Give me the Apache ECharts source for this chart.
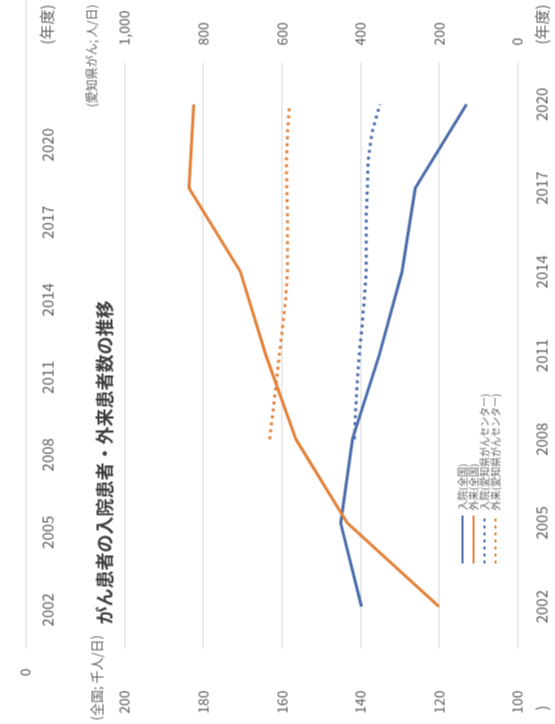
<!DOCTYPE html>
<html><head><meta charset="utf-8">
<script src="https://cdn.jsdelivr.net/npm/echarts@6/dist/echarts.min.js"></script>
<style>
html,body{margin:0;padding:0;width:555px;height:724px;overflow:hidden;background:#fff;}
#chart{position:absolute;width:724px;height:555px;left:-84.5px;top:84.5px;transform:rotate(-90deg);transform-origin:50% 50%;}
</style></head><body><div id="chart"></div>
<script>
// ---- data ----
const years = [2002, 2005, 2008, 2011, 2014, 2017, 2020];
const inpatientNational = [139.7, 145.0, 142.0, 135.2, 129.4, 126.0, 113.0];   // 千人/日
const outpatientNational = [120.0, 143.3, 156.4, 164.0, 170.5, 183.6, 182.4]; // 千人/日
const aichiYears = [2008, 2009, 2010, 2011, 2012, 2013, 2014, 2015, 2016, 2017, 2018, 2019, 2020];
const inpatientAichi = [415, 412, 408, 403, 396, 390, 385, 385, 385, 382, 380, 370, 350];   // 人/日
const outpatientAichi = [631, 622, 614, 606, 598, 590, 585, 585, 585, 587, 588, 585, 580]; // 人/日
const seriesNames = ['入院(全国)', '外来(全国)', '入院(愛知県がんセンター)', '外来(愛知県がんセンター)'];
const leftAxisRange = [100, 200, 20];
const rightAxisRange = [0, 1000, 200];

const FONT = '"Noto Sans CJK JP", "Noto Sans", sans-serif';
const BLUE = '#4a6cab';
const ORANGE = '#e2813a';
const GRID = '#d9d9d9';
const TXT = '#5f5f5f';

const pair = (xs, ys) => xs.map((x, i) => [x, ys[i]]);

const chart = echarts.init(document.getElementById('chart'), null, {renderer: 'canvas'});
chart.setOption({
  animation: false,
  backgroundColor: '#ffffff',
  textStyle: {fontFamily: FONT},
  grid: [
    {left: 76, right: 62, top: 124, bottom: 38},
    {left: 76, width: 700, top: 0, height: 25}
  ],
  xAxis: [
    {
      type: 'value', gridIndex: 0, min: 2000.5, max: 2021.5,
      axisLine: {show: true, lineStyle: {color: GRID}},
      axisTick: {show: false},
      splitLine: {show: false},
      axisLabel: {customValues: years, formatter: v => String(v), color: TXT, fontSize: 15, margin: 17, fontFamily: FONT}
    },
    {
      type: 'value', gridIndex: 1, min: 2000.5, max: 2000.5 + 700 / (586 / 21),
      axisLine: {show: true, lineStyle: {color: GRID}},
      axisTick: {show: false},
      splitLine: {show: false},
      axisLabel: {customValues: years, formatter: v => String(v), color: TXT, fontSize: 15, margin: 15, fontFamily: FONT}
    }
  ],
  yAxis: [
    {
      type: 'value', gridIndex: 0, position: 'left',
      min: leftAxisRange[0], max: leftAxisRange[1], interval: leftAxisRange[2],
      axisLine: {show: false}, axisTick: {show: false},
      splitLine: {show: true, lineStyle: {color: GRID, width: 1}},
      axisLabel: {color: TXT, fontSize: 14, margin: 42, fontFamily: FONT}
    },
    {
      type: 'value', gridIndex: 0, position: 'right',
      min: rightAxisRange[0], max: rightAxisRange[1], interval: rightAxisRange[2],
      axisLine: {show: false}, axisTick: {show: false},
      splitLine: {show: false},
      axisLabel: {color: TXT, fontSize: 14, margin: 17, fontFamily: FONT,
        formatter: v => v.toLocaleString('en-US')}
    },
    {
      type: 'value', gridIndex: 1, min: 0, max: 10, interval: 10,
      axisLine: {show: false}, axisTick: {show: false},
      splitLine: {show: false},
      axisLabel: {color: TXT, fontSize: 14, margin: 20, fontFamily: FONT,
        formatter: v => (v === 0 ? '0' : '')}
    }
  ],
  legend: {
    orient: 'vertical', left: 155, top: 452,
    itemWidth: 48, itemHeight: 11, itemGap: 1,
    itemStyle: {opacity: 0},
    textStyle: {color: TXT, fontSize: 10, fontFamily: FONT},
    data: seriesNames
  },
  series: [
    {name: seriesNames[0], type: 'line', xAxisIndex: 0, yAxisIndex: 0, symbol: 'none',
      lineStyle: {color: BLUE, width: 3}, itemStyle: {color: BLUE},
      data: pair(years, inpatientNational)},
    {name: seriesNames[1], type: 'line', xAxisIndex: 0, yAxisIndex: 0, symbol: 'none',
      lineStyle: {color: ORANGE, width: 3}, itemStyle: {color: ORANGE},
      data: pair(years, outpatientNational)},
    {name: seriesNames[2], type: 'line', xAxisIndex: 0, yAxisIndex: 1, symbol: 'none',
      lineStyle: {color: BLUE, width: 3, type: [3, 4]}, itemStyle: {color: BLUE},
      data: pair(aichiYears, inpatientAichi)},
    {name: seriesNames[3], type: 'line', xAxisIndex: 0, yAxisIndex: 1, symbol: 'none',
      lineStyle: {color: ORANGE, width: 3, type: [3, 4]}, itemStyle: {color: ORANGE},
      data: pair(aichiYears, outpatientAichi)}
  ],
  graphic: [
    {type: 'text', left: 100, top: 95, style: {text: 'がん患者の入院患者・外来患者数の推移', font: 'bold 18px ' + FONT, fill: '#3f3f3f'}},
    {type: 'text', left: 4, top: 90, style: {text: '(全国; 千人/日)', font: '13px ' + FONT, fill: TXT}},
    {type: 'text', right: 4, top: 85, style: {text: '(愛知県がん; 人/日)', font: '12px ' + FONT, fill: TXT}},
    {type: 'text', left: 680, top: 534, style: {text: '(年度)', font: '15px ' + FONT, fill: TXT}},
    {type: 'text', left: 680, top: 39, style: {text: '(年度)', font: '15px ' + FONT, fill: TXT}},
    {type: 'text', left: 14, top: 534, style: {text: ')', font: '15px ' + FONT, fill: TXT}}
  ]
});
</script></body></html>
